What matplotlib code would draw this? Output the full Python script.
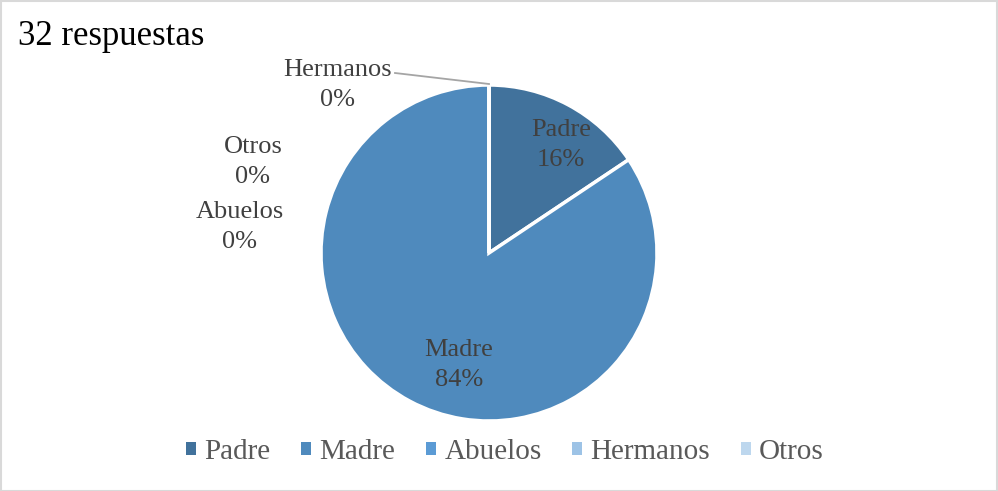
import numpy as np
import matplotlib.pyplot as plt
from matplotlib.patches import Rectangle

plt.rcParams['font.family'] = ['Liberation Serif', 'DejaVu Serif']

categorias = ['Padre', 'Madre', 'Abuelos', 'Hermanos', 'Otros']
respuestas = [5, 27, 0, 0, 0]
etiquetas_pct = ['16%', '84%', '0%', '0%', '0%']
colores = ['#41729c', '#4f8abd', '#5b9bd5', '#9dc3e6', '#bdd7ee']

W, H = 998, 491
fig = plt.figure(figsize=(W / 100, H / 100), dpi=100)
ax = fig.add_axes([0, 0, 1, 1])

# pixel coords measured from top, flipped for the axes
def py(y):
    return H - y

cx, cy, r = 489, 253, 168
valores = [v if v > 0 else 1e-9 for v in respuestas]
wedges, _ = ax.pie(valores, colors=colores, startangle=90, counterclock=False,
                   center=(cx, py(cy)), radius=r, frame=True,
                   wedgeprops=dict(edgecolor='white', linewidth=2.5))
ax.set_xlim(0, W)
ax.set_ylim(0, H)
ax.set_aspect('auto')
ax.axis('off')

gris = '#404040'
fs = 19
ls = 1.5
# labels for the two non-empty slices
ax.text(561, py(145), f'{categorias[0]}\n{etiquetas_pct[0]}', ha='center', va='center',
        fontsize=fs, color=gris, linespacing=ls)
ax.text(459, py(365), f'{categorias[1]}\n{etiquetas_pct[1]}', ha='center', va='center',
        fontsize=fs, color=gris, linespacing=ls)
# zero slices placed to the left
ax.text(338, py(85), f'{categorias[3]}\n{etiquetas_pct[3]}', ha='center', va='center',
        fontsize=fs, color=gris, linespacing=ls)
ax.plot([395, 489], [py(73), py(84)], color='#a5a5a5', linewidth=1.3)
ax.text(253, py(162), f'{categorias[4]}\n{etiquetas_pct[4]}', ha='center', va='center',
        fontsize=fs, color=gris, linespacing=ls)
ax.text(240, py(227), f'{categorias[2]}\n{etiquetas_pct[2]}', ha='center', va='center',
        fontsize=fs, color=gris, linespacing=ls)

ax.text(18, py(36), '32 respuestas', ha='left', va='center', fontsize=25, color='black')

leg = ax.legend(wedges, categorias, loc='center', bbox_to_anchor=(505 / W, 1 - 452 / H),
                ncol=5, frameon=False, fontsize=21, handlelength=0.33, handleheight=0.33,
                handletextpad=0.3, columnspacing=1.05, labelcolor='#595959')
for h in leg.legend_handles:
    h.set_edgecolor('none')

fig.add_artist(Rectangle((0.5 / W, 0.5 / H), 1 - 1.5 / W, 1 - 1.5 / H, transform=fig.transFigure,
                         fill=False, edgecolor='#d9d9d9', linewidth=1.5))

fig.savefig('out.png', dpi=100)
